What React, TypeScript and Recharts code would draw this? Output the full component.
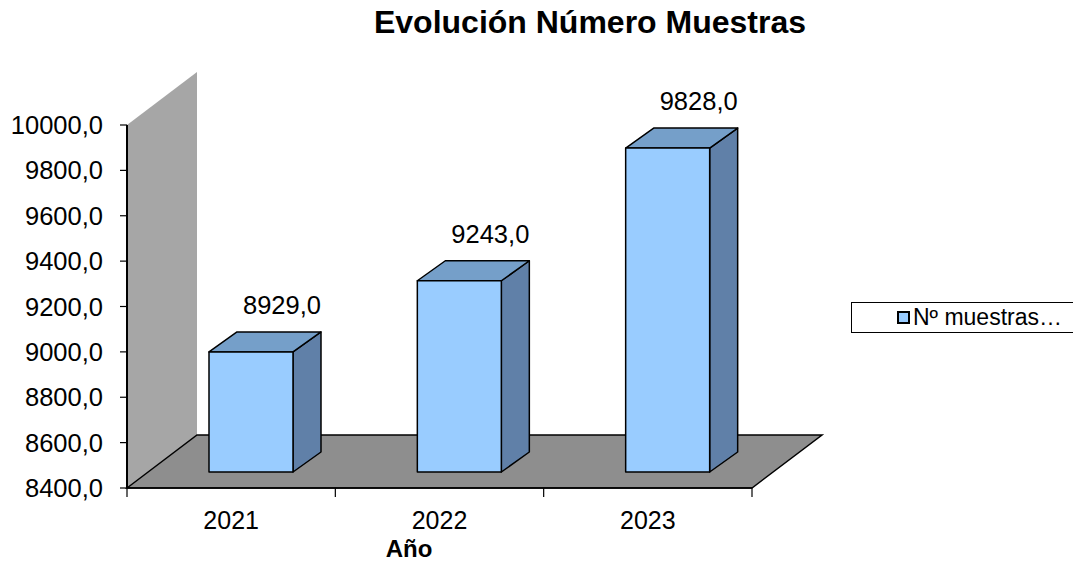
import { BarChart, Bar, XAxis, YAxis, ReferenceArea, LabelList, Legend } from 'recharts';

const years = ['2021', '2022', '2023'];
const muestras = [8929, 9243, 9828];
const yTicks = [8400, 8600, 8800, 9000, 9200, 9400, 9600, 9800, 10000];
const seriesName = 'Nº muestras…';

const data = years.map((year, i) => ({ year, muestras: muestras[i] }));

const FONT = '"Liberation Sans", Arial, sans-serif';
// 3D look: wall/floor depth, bar shift into the floor, bar depth
const DEPTH = { dx: 70, dy: -53 };
const SHIFT = { dx: 20, dy: -16 };
const BOX = { dx: 28, dy: -20 };

const COLORS = {
  wall: '#a6a6a6',
  floor: '#8e8e8e',
  front: '#99ccff',
  top: '#759fc9',
  side: '#6080a8',
};

const fmt = (v: number) => v.toFixed(1).replace('.', ',');

function Backdrop(props: any) {
  const { x, y, width, height } = props;
  const b = y + height;
  const step = width / years.length;
  return (
    <g>
      <polygon
        points={`${x},${y} ${x + DEPTH.dx},${y + DEPTH.dy} ${x + DEPTH.dx},${b + DEPTH.dy} ${x},${b}`}
        fill={COLORS.wall}
      />
      <polygon
        points={`${x},${b} ${x + DEPTH.dx},${b + DEPTH.dy} ${x + width + DEPTH.dx},${b + DEPTH.dy} ${x + width},${b}`}
        fill={COLORS.floor}
        stroke="#000"
        strokeWidth={1.5}
      />
      {[0, 1, 2, 3].map((i) => (
        <line key={i} x1={x + i * step} x2={x + i * step} y1={b} y2={b + 9} stroke="#000" strokeWidth={1.2} />
      ))}
    </g>
  );
}

function Box3D(props: any) {
  const { x, y, width, height } = props;
  const fx = x + SHIFT.dx;
  const fy = y + SHIFT.dy;
  const w = width;
  const h = height;
  return (
    <g stroke="#000" strokeWidth={1.5} strokeLinejoin="round">
      <polygon
        points={`${fx + w},${fy} ${fx + w + BOX.dx},${fy + BOX.dy} ${fx + w + BOX.dx},${fy + h + BOX.dy} ${fx + w},${fy + h}`}
        fill={COLORS.side}
      />
      <polygon
        points={`${fx},${fy} ${fx + BOX.dx},${fy + BOX.dy} ${fx + w + BOX.dx},${fy + BOX.dy} ${fx + w},${fy}`}
        fill={COLORS.top}
      />
      <rect x={fx} y={fy} width={w} height={h} fill={COLORS.front} />
    </g>
  );
}

function TopLabel(props: any) {
  const vb = props.viewBox ?? props;
  const { x, y, width } = vb;
  return (
    <text
      x={x + width / 2 + SHIFT.dx + 31}
      y={y + SHIFT.dy + BOX.dy - 18}
      textAnchor="middle"
      fontSize={25.5}
      fontFamily={FONT}
      fill="#000"
    >
      {fmt(Number(props.value))}
    </text>
  );
}

function LegendBox() {
  return (
    <div
      style={{
        border: '1px solid #000',
        background: '#fff',
        height: 29,
        width: 240,
        boxSizing: 'content-box',
        display: 'flex',
        alignItems: 'center',
        fontFamily: FONT,
        fontSize: 23,
        color: '#000',
      }}
    >
      <span
        style={{
          display: 'inline-block',
          width: 9,
          height: 9,
          border: '2px solid #000',
          background: COLORS.front,
          marginLeft: 45,
          marginRight: 3,
        }}
      />
      <span>{seriesName}</span>
    </div>
  );
}

export default function App() {
  return (
    <div style={{ position: 'absolute', left: 0, top: 0, width: 1073, height: 562, overflow: 'hidden', background: '#fff' }}>
      <BarChart
        width={1073}
        height={562}
        data={data}
        margin={{ top: 125, right: 321, bottom: 0, left: 0 }}
        barSize={84}
      >
        <ReferenceArea y1={8400} y2={10000} ifOverflow="visible" shape={<Backdrop />} />
        <XAxis
          dataKey="year"
          height={74}
          axisLine={{ stroke: '#000', strokeWidth: 1.5 }}
          tickLine={false}
          tickSize={9}
          tickMargin={14}
          tick={{ fontSize: 25, fill: '#000', fontFamily: FONT }}
        />
        <YAxis
          domain={[8400, 10000]}
          ticks={yTicks}
          width={127}
          tickFormatter={fmt}
          axisLine={{ stroke: '#000', strokeWidth: 2 }}
          tickLine={{ stroke: '#000', strokeWidth: 1.2 }}
          tickSize={7}
          tickMargin={17}
          tick={{ fontSize: 25.5, fill: '#000', fontFamily: FONT }}
          allowDataOverflow
        />
        <Legend
          layout="horizontal"
          verticalAlign="middle"
          align="center"
          wrapperStyle={{ left: 851, top: 302, width: 245, height: 31 }}
          content={() => <LegendBox />}
        />
        <Bar dataKey="muestras" name={seriesName} shape={<Box3D />} isAnimationActive={false}>
          <LabelList dataKey="muestras" content={<TopLabel />} />
        </Bar>
        <text x={590} y={33} textAnchor="middle" fontSize={32} fontWeight="bold" fontFamily={FONT} fill="#000">
          Evolución Número Muestras
        </text>
        <text x={409} y={557} textAnchor="middle" fontSize={24} fontWeight="bold" fontFamily={FONT} fill="#000">
          Año
        </text>
      </BarChart>
    </div>
  );
}
